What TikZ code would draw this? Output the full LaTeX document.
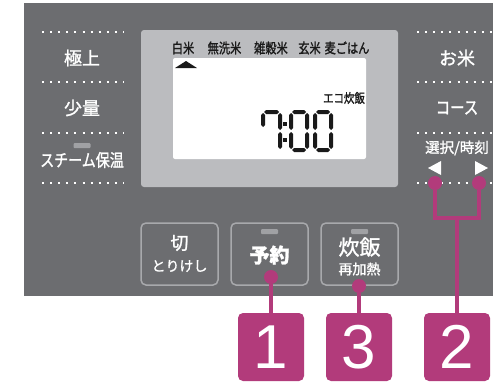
\documentclass[tikz,border=0pt]{standalone}
\usepackage{xcolor}
\usepackage{fontspec}
\setmainfont{Liberation Sans}
\newfontfamily\jp[FakeBold=1.3]{Noto Sans CJK JP}
\newfontfamily\jpc[FakeStretch=0.8,FakeBold=1.3]{Noto Sans CJK JP}
\usepackage{tikz}
\usetikzlibrary{positioning}

\definecolor{panel}{HTML}{6C6D70}
\definecolor{bezel}{HTML}{BBBCBF}
\definecolor{btnline}{HTML}{A8A9AC}
\definecolor{lampgray}{HTML}{A0A1A4}
\definecolor{mag}{HTML}{B23B7B}
\definecolor{lcdink}{HTML}{1A1A1A}

% one segment of the time display
\newcommand\hseg[3]{\fill[lcdink] (#1,#3) -- (#1+2,#3-2) -- (#2-2,#3-2) -- (#2,#3) -- (#2-2,#3+2) -- (#1+2,#3+2) -- cycle;}
\newcommand\vseg[3]{\fill[lcdink] (#1,#2) -- (#1+2,#2+2) -- (#1+2,#3-2) -- (#1,#3) -- (#1-2,#3-2) -- (#1-2,#2+2) -- cycle;}
\newcommand\lcdzero[1]{%
  \hseg{#1+3}{#1+17}{112}\hseg{#1+3}{#1+17}{150}%
  \vseg{#1+2}{113}{130}\vseg{#1+2}{132}{149}%
  \vseg{#1+18}{113}{130}\vseg{#1+18}{132}{149}}
\newcommand\lcdseven[1]{%
  \hseg{#1+3}{#1+18}{112}%
  \vseg{#1+2}{113}{127}%
  \vseg{#1+19}{113}{130}\vseg{#1+19}{132}{149}}

\begin{document}
\begin{tikzpicture}[
  x=1pt, y=-1pt,
  lbl/.style={text=white, inner sep=0pt},
  lcdlbl/.style={text=lcdink, inner sep=0pt, font=\jpc\fontsize{14}{14}\selectfont},
  dots/.style={white, line width=2pt, dash pattern=on 2pt off 6.1pt},
  btn/.style={draw=btnline, line width=1.5pt, rounded corners=5pt, minimum width=77pt, minimum height=62pt},
  lamp/.style={fill=lampgray, rounded corners=1pt, inner sep=0pt, minimum width=17pt, minimum height=5pt},
  pin/.style={circle, fill=mag, inner sep=0pt, minimum size=14pt},
  numbox/.style={fill=mag, rounded corners=5pt, text=white, minimum width=66pt, minimum height=68pt, inner sep=0pt, font=\fontsize{62}{62}\selectfont},
  link/.style={mag, line width=4pt}
]
\fill[white] (0,0) rectangle (493,383);
\useasboundingbox (0,0) rectangle (493,383);

% panel and display
\fill[panel] (24,3) rectangle (493,296);
\fill[bezel, rounded corners=3pt] (141,30) rectangle (398,187);
\fill[white, rounded corners=2pt] (173,58) rectangle (366,159);

% dotted rows
\foreach \y in {32,82,133,183} {
  \draw[dots] (42,\y) -- (124,\y);
  \draw[dots] (417,\y) -- (493,\y);
}

% left column
\node[lbl, font=\jp\fontsize{18}{18}\selectfont] (best) at (82,58) {極上};
\node[lbl, font=\jp\fontsize{18}{18}\selectfont] (small) at (82,108) {少量};
\node[lamp] (lampsteam) at (82,145.5) {};
\node[lbl, font=\jpc\fontsize{17.5}{17.5}\selectfont] (steam) at (82,160) {スチーム保温};

% right column
\node[lbl, font=\jp\fontsize{18}{18}\selectfont] (rice) at (457,58) {お米};
\node[lbl, font=\jpc\fontsize{18}{18}\selectfont] (course) at (457,108) {コース};
\node[lbl, font=\jp\fontsize{14.5}{14.5}\selectfont] (select) at (457,148) {選択/時刻};
\fill[white] (441,161) -- (441,175) -- (428,168) -- cycle;
\fill[white] (475,161) -- (475,175) -- (488,168) -- cycle;

% display texts
\node[lcdlbl] (white) at (183,48) {白米};
\node[lcdlbl] (wash) at (224.5,48) {無洗米};
\node[lcdlbl] (grain) at (271,48) {雑穀米};
\node[lcdlbl] (brown) at (309.5,48) {玄米};
\node[lcdlbl] (barley) at (347,48) {麦ごはん};
\fill[lcdink] (175,68) -- (197,68) -- (186,61) -- cycle;
\node[lcdlbl, font=\jpc\fontsize{13}{13}\selectfont] (eco) at (344,98) {エコ炊飯};
\lcdseven{261}
\fill[lcdink] (283.3,122.3) rectangle (286.7,125.7);
\fill[lcdink] (283.3,138.3) rectangle (286.7,141.7);
\lcdzero{289}
\lcdzero{313}

% buttons
\node[btn] (off) at (179.5,254) {};
\node[lbl, font=\jp\fontsize{18}{18}\selectfont] (offtop) at (179.5,243) {切};
\node[lbl, font=\jp\fontsize{14}{14}\selectfont] (offsub) at (179.5,266) {とりけし};
\node[btn] (timer) at (269.5,254) {};
\node[lamp] (lamptimer) at (269.5,231.5) {};
\node[lbl, font=\jp\bfseries\fontsize{20}{20}\selectfont] (timertxt) at (269.5,255) {予約};
\node[btn] (cook) at (359.5,254) {};
\node[lamp] (lampcook) at (359.5,231.5) {};
\node[lbl, font=\jp\fontsize{21}{21}\selectfont] (cooktop) at (359.5,247) {炊飯};
\node[lbl, font=\jp\fontsize{14}{14}\selectfont] (cooksub) at (359.5,269) {再加熱};

% callouts
\node[pin] (pintimer) at (271,277) {};
\node[pin] (pincook) at (359,286) {};
\node[pin] (pinleft) at (435,183) {};
\node[pin] (pinright) at (479,183) {};
\coordinate (fork) at (457,218);
\node[numbox] (n1) at (271,347) {1};
\node[numbox] (n3) at (359,347) {3};
\node[numbox] (n2) at (457,347) {2};
\draw[link] (pintimer) -- (n1);
\draw[link] (pincook) -- (n3);
\draw[link] (pinleft) |- (fork) -| (pinright);
\draw[link] (fork) -- (n2);
\end{tikzpicture}
\end{document}
